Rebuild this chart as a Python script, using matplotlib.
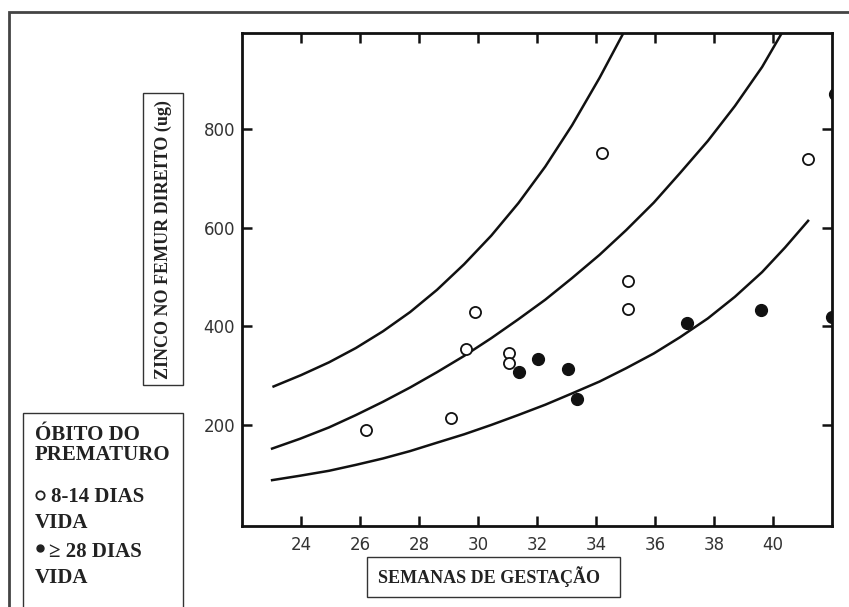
import matplotlib
matplotlib.use("Agg")
import matplotlib.pyplot as plt
from matplotlib.patches import Rectangle
from matplotlib.lines import Line2D

# gestational weeks / zinc (ug)
open_x = [26.2, 29.1, 29.6, 29.9, 31.05, 31.05, 34.2, 35.1, 35.1, 41.2]
open_y = [189, 214, 355, 429, 345, 326, 751, 491, 436, 739]
filled_x = [31.4, 32.05, 33.05, 33.35, 37.1, 39.6, 42.0, 42.1]
filled_y = [308, 333, 313, 253, 406, 434, 418, 871]

# reference curves
upper_x = [23.07, 24.0, 24.95, 25.86, 26.78, 27.7, 28.61, 29.53, 30.45, 31.37,
           32.28, 33.19, 34.12, 34.93]
upper_y = [278, 301, 327, 356, 390, 429, 474, 526, 584, 650, 724, 808, 904, 995]
mid_x = [23.02, 23.97, 24.95, 25.86, 26.78, 27.7, 28.61, 29.53, 30.45, 31.36,
         32.28, 33.19, 34.12, 35.02, 35.96, 36.85, 37.79, 38.71, 39.63, 40.3]
mid_y = [152, 172, 195, 220, 247, 276, 307, 340, 376, 414, 454, 498, 545, 595,
         651, 711, 776, 847, 926, 995]
low_x = [23.02, 23.97, 24.95, 25.86, 26.78, 27.7, 28.61, 29.53, 30.45, 31.36,
         32.28, 33.19, 34.12, 35.02, 35.96, 36.85, 37.79, 38.71, 39.63, 40.41, 41.19]
low_y = [88, 97, 107, 119, 132, 147, 164, 181, 200, 220, 241, 264, 288, 315,
         345, 378, 416, 460, 510, 560, 614]

xticks = [24, 26, 28, 30, 32, 34, 36, 38, 40]
yticks = [200, 400, 600, 800]

W, H = 849, 607
fig = plt.figure(figsize=(W / 100, H / 100), dpi=100)
fig.patch.set_facecolor("white")


def fx(px):
    return px / W


def fy(py):
    return 1 - py / H


ax = fig.add_axes([fx(242), fy(526), fx(832) - fx(242), fy(33) - fy(526)])
ink = "#111111"

for cx, cy in [(upper_x, upper_y), (mid_x, mid_y), (low_x, low_y)]:
    ax.plot(cx, cy, color=ink, lw=1.8, solid_joinstyle="round")
ax.plot(open_x, open_y, "o", ms=8, mfc="white", mec=ink, mew=1.3, ls="none")
ax.plot(filled_x, filled_y, "o", ms=8.5, mfc=ink, mec=ink, ls="none")

ax.set_xlim(22, 42)
ax.set_ylim(-5, 995)
ax.set_xticks(xticks)
ax.set_yticks(yticks)
ax.tick_params(direction="in", top=True, right=True, length=7, width=1.8,
               colors=ink, labelcolor="#333333", labelsize=12, pad=5)
ax.tick_params(axis="x", pad=7)
for lab in ax.get_xticklabels() + ax.get_yticklabels():
    lab.set_family("DejaVu Sans")
for sp in ax.spines.values():
    sp.set_linewidth(2.0)
    sp.set_color(ink)

serif = ["Liberation Serif", "DejaVu Serif", "DejaVu Sans"]

# outer frame of the scanned page
fig.patches.append(Rectangle((fx(9), fy(700)), 1.2, fy(12) - fy(700),
                             transform=fig.transFigure, fill=False,
                             ec="#444444", lw=2))

# y-label box
fig.patches.append(Rectangle((fx(143), fy(385)), fx(183) - fx(143), fy(93) - fy(385),
                             transform=fig.transFigure, fill=False, ec="#333333", lw=1))
fig.text(fx(163), fy(240), "ZINCO NO FEMUR DIREITO (ug)", rotation=90,
         ha="center", va="center", fontsize=13, fontweight="bold", family=serif,
         color="#222222")

# x-label box
fig.patches.append(Rectangle((fx(367), fy(597)), fx(620) - fx(367), fy(557) - fy(597),
                             transform=fig.transFigure, fill=False, ec="#333333", lw=1))
fig.text(fx(489), fy(577), "SEMANAS DE GESTAÇÃO", ha="center", va="center",
         fontsize=13, fontweight="bold", family=serif, color="#222222")

# legend box
fig.patches.append(Rectangle((fx(23), fy(700)), fx(183) - fx(23), fy(413) - fy(700),
                             transform=fig.transFigure, fill=False, ec="#333333", lw=1))
legend_lines = [("ÓBITO DO", 35, 435), ("PREMATURO", 35, 455), ("8-14 DIAS", 51, 497),
                ("VIDA", 35, 523), ("≥ 28 DIAS", 49, 552), ("VIDA", 35, 578)]
for txt, px, py in legend_lines:
    fig.text(fx(px), fy(py), txt, ha="left", va="center", fontsize=15,
             fontweight="bold", family=serif, color="#222222")
fig.add_artist(Line2D([fx(40)], [fy(495)], marker="o", ms=6, mfc="white",
                      mec="#222222", mew=1.3, transform=fig.transFigure))
fig.add_artist(Line2D([fx(40)], [fy(548)], marker="o", ms=5, mfc="#222222",
                      mec="#222222", transform=fig.transFigure))

fig.savefig("out.png", dpi=100)
